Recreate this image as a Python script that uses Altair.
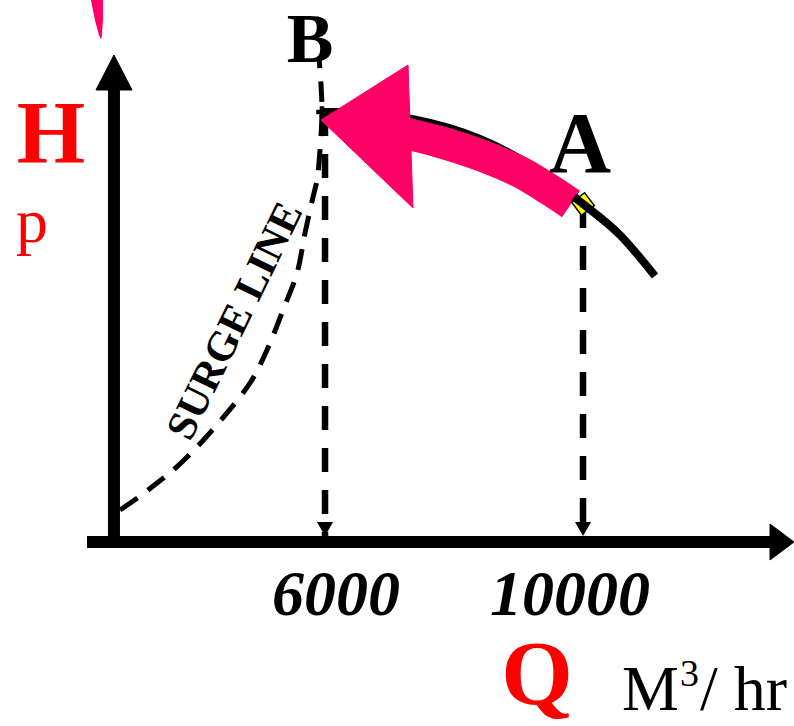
import altair as alt
import pandas as pd

# Flow (m3/hr) horizontally, head (arbitrary units, 0 on the Q axis) vertically
Q_DOMAIN = [961, 13271]
H_DOMAIN = [-184, 542]

# Operating points on the compressor curve
A_Q, A_H = 10000, 338
B_Q, B_H = 5953, 430

# Surge line, rising from the H axis up through point B
surge_q = [2821, 3116, 3395, 3612, 3969, 4387, 4837, 5101, 5349, 5566, 5690,
           5814, 5876, 5922, 5953, 5938, 5907]
surge_h = [32, 45, 59, 70, 92, 122, 159, 192, 232, 269, 309, 345, 362, 392,
           430, 457, 484]

# Compressor performance curve: from B down to A, then beyond A
perf_q = [5953, 6310, 7349, 8403, 9597, 10000]
perf_h = [430, 430, 423, 403, 359, 338]
perf_beyond_q = [9860, 10000, 10573, 11116]
perf_beyond_h = [345, 338, 307, 266]

# Curved arrow moving the operating point from A toward B
move_q = [7163, 7783, 8403, 9023, 9488, 9814]
move_h = [410, 400, 387, 370, 352, 338]
move_head_q = [5938, 7287, 7364]
move_head_h = [422, 477, 334]

# Flows marked on the Q axis, with the drop lines from the points above them
flow_ticks = [6000, 10000]
flow_labels = ["6000", "10000"]
drop_top = [B_H, A_H]
drop_bottom = [-6, 5]

# Axis arrows
H_AXIS_Q = 2728
h_axis_top = 452
h_head_q = [2728, 2449, 3008]
h_head_h = [487, 452, 452]
q_axis_from, q_axis_to = 2310, 12899
q_head_q = [13271, 12899, 12899]
q_head_h = [0, 18, -18]

# Tail of a pink arrow entering from the top
tail_q = [2457, 2496, 2519, 2527]
tail_h = [547, 522, 507, 503]
tail_w = [13, 8, 3, 0.5]

PINK = "#FF0066"
RED = "#FF0000"
SERIF = "Liberation Serif"

xs = alt.Scale(domain=Q_DOMAIN, nice=False, zero=False)
ys = alt.Scale(domain=H_DOMAIN, nice=False, zero=False)


def X(f):
    return alt.X(f, type="quantitative", scale=xs, axis=None)


def Y(f):
    return alt.Y(f, type="quantitative", scale=ys, axis=None)


def path_df(qs, hs, **extra):
    d = {"q": qs, "h": hs, "i": list(range(len(qs)))}
    d.update(extra)
    return pd.DataFrame(d)


surge = alt.Chart(path_df(surge_q, surge_h)).mark_line(
    color="black", strokeWidth=5, strokeDash=[21, 13], interpolate="catmull-rom"
).encode(x=X("q"), y=Y("h"), order="i:Q")

drops_df = pd.DataFrame({"q": flow_ticks, "top": drop_top, "bot": drop_bottom})
drops = alt.Chart(drops_df).mark_rule(
    color="black", strokeWidth=6.5, strokeDash=[24, 18], strokeCap="butt"
).encode(x=X("q"), y=Y("top"), y2="bot")

drop_heads = alt.Chart(pd.DataFrame({"q": flow_ticks, "h": [13, 13]})).mark_point(
    shape="triangle-down", filled=True, color="black", size=260, opacity=1
).encode(x=X("q"), y=Y("h"))

h_axis = alt.Chart(pd.DataFrame({"q": [H_AXIS_Q], "top": [h_axis_top], "bot": [-6]})).mark_rule(
    color="black", strokeWidth=12, strokeCap="butt"
).encode(x=X("q"), y=Y("top"), y2="bot")

q_axis = alt.Chart(pd.DataFrame({"a": [q_axis_from], "b": [q_axis_to], "h": [0]})).mark_rule(
    color="black", strokeWidth=12, strokeCap="butt"
).encode(x=X("a"), x2="b", y=Y("h"))

axis_heads_df = pd.concat([
    path_df(h_head_q, h_head_h, g=["h"] * 3),
    path_df(q_head_q, q_head_h, g=["q"] * 3),
])
axis_heads = alt.Chart(axis_heads_df).mark_line(
    fill="black", stroke="black", strokeWidth=1, interpolate="linear-closed"
).encode(x=X("q"), y=Y("h"), order="i:Q", detail="g:N")

perf = alt.Chart(path_df(perf_q, perf_h)).mark_line(
    color="black", strokeWidth=8, interpolate="monotone"
).encode(x=X("q"), y=Y("h"), order="i:Q")

move = alt.Chart(path_df(move_q, move_h)).mark_line(
    color=PINK, strokeWidth=32, strokeCap="butt", interpolate="catmull-rom"
).encode(x=X("q"), y=Y("h"), order="i:Q")

move_head = alt.Chart(path_df(move_head_q, move_head_h)).mark_line(
    fill=PINK, stroke=PINK, strokeWidth=1, interpolate="linear-closed"
).encode(x=X("q"), y=Y("h"), order="i:Q")

point_a = alt.Chart(pd.DataFrame({"q": [A_Q], "h": [A_H]})).mark_point(
    shape="diamond", filled=True, fill="#FFFF00", stroke="black", strokeWidth=1.5,
    size=520, angle=8, opacity=1
).encode(x=X("q"), y=Y("h"))

perf_beyond = alt.Chart(path_df(perf_beyond_q, perf_beyond_h)).mark_line(
    color="black", strokeWidth=8, interpolate="monotone"
).encode(x=X("q"), y=Y("h"), order="i:Q")

point_b = alt.Chart(pd.DataFrame({"q": [B_Q], "h": [B_H]})).mark_point(
    shape="cross", filled=True, color="black", size=130, opacity=1
).encode(x=X("q"), y=Y("h"))

tail = alt.Chart(path_df(tail_q, tail_h, w=tail_w)).mark_trail(color=PINK).encode(
    x=X("q"), y=Y("h"), order="i:Q", size=alt.Size("w:Q", scale=None, legend=None)
)


def label(q, h, txt, **style):
    df = pd.DataFrame({"q": [q], "h": [h], "t": [txt]})
    return alt.Chart(df).mark_text(font=SERIF, **style).encode(
        x=X("q"), y=Y("h"), text="t:N"
    )


def title(px, py, txt, **style):
    df = pd.DataFrame({"t": [txt]})
    return alt.Chart(df).mark_text(font=SERIF, **style).encode(
        x=alt.value(px), y=alt.value(py), text="t:N"
    )


texts = [
    label(A_Q, A_H, "A", fontSize=86, fontWeight="bold", dx=-3, dy=-32,
          baseline="alphabetic", color="black"),
    label(B_Q, B_H, "B", fontSize=70, fontWeight="bold", dx=-12, dy=-50,
          baseline="alphabetic", color="black"),
    label(flow_ticks[0], 0, flow_labels[0], fontSize=64, fontWeight="bold",
          fontStyle="italic", dx=11, dy=73, baseline="alphabetic", color="black"),
    label(flow_ticks[1], 0, flow_labels[1], fontSize=64, fontWeight="bold",
          fontStyle="italic", dx=-13, dy=73, baseline="alphabetic", color="black"),
    label(4604, 221, "SURGE LINE", fontSize=42, fontWeight="bold", angle=296,
          align="center", baseline="middle", color="black"),
    title(51, 162, "H", fontSize=88, fontWeight="bold", color=RED,
          baseline="alphabetic"),
    title(32, 242, "p", fontSize=64, color=RED, baseline="alphabetic"),
    title(537, 704, "Q", fontSize=92, fontWeight="bold", color=RED,
          baseline="alphabetic"),
    title(622, 710, "M", fontSize=64, color="black", align="left",
          baseline="alphabetic"),
    title(680, 686, "3", fontSize=38, color="black", align="left",
          baseline="alphabetic"),
    title(700, 710, "/ hr", fontSize=64, color="black", align="left",
          baseline="alphabetic"),
]

chart = alt.layer(
    surge, drops, drop_heads, h_axis, q_axis, axis_heads, perf,
    move, move_head, point_a, perf_beyond, point_b, tail, *texts
).properties(
    width=794, height=726, padding=0, autosize=alt.AutoSizeParams(type="none"),
    background="white"
).configure_view(stroke=None)

chart.save("out.html", embed_options={"renderer": "svg", "actions": False})
